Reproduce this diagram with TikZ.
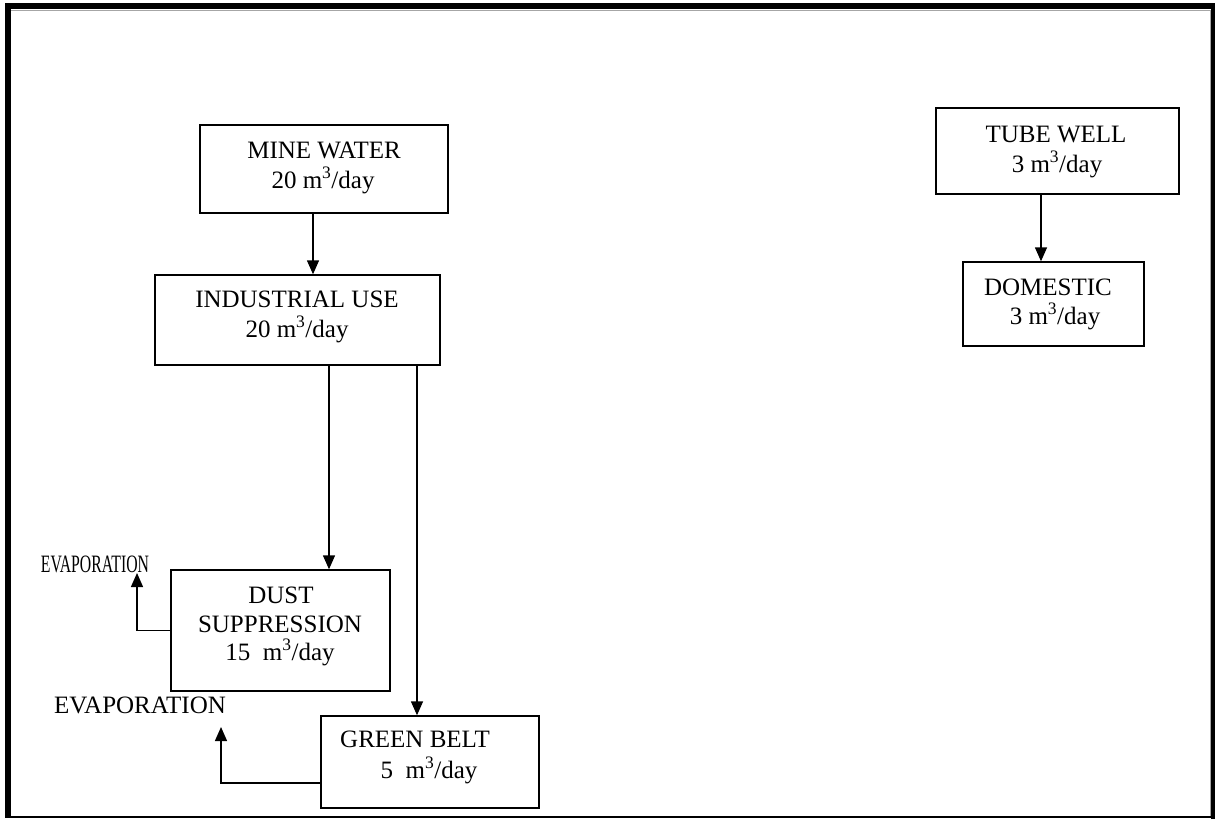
\documentclass[tikz,border=0pt]{standalone}
\usepackage{fontspec}
\setmainfont{Liberation Serif}
\usetikzlibrary{arrows.meta}
\begin{document}
\begin{tikzpicture}[x=1pt,y=-1pt,
  box/.style={draw=black,line width=1.4pt,inner sep=0pt,minimum width=#1},
  lbl/.style={inner sep=0pt,anchor=base,font=\fontsize{25}{29}\selectfont},
  arr/.style={line width=1.4pt,-{Triangle[length=14pt,width=12pt]}}]
\useasboundingbox (0,0) rectangle (1215,819);
% page border
\fill[black] (5,3) rectangle (1215,9);
\fill[black] (5,3) rectangle (11,817);
\fill[black] (1211,3) rectangle (1215,819);
\draw[black,line width=1.5pt] (5,817) -- (1211,817);
\draw[gray!70,line width=0.7pt] (11,10) -- (1210,10) -- (1210,816);
% boxes
\node[box=248pt,minimum height=88pt] (mine) at (324,169) {};
\node[box=285pt,minimum height=90pt] (ind) at (297.5,320) {};
\node[box=219pt,minimum height=121pt] (dust) at (280.5,630.5) {};
\node[box=218pt,minimum height=92pt] (green) at (430,762) {};
\node[box=243pt,minimum height=86pt] (tube) at (1057.5,151) {};
\node[box=181pt,minimum height=84pt] (dom) at (1053.5,304) {};
% labels
\node[lbl] (t1) at (324,158) {MINE WATER};
\node[lbl] (t2) at (323,188) {20 m\textsuperscript{3}/day};
\node[lbl] (t3) at (297,307) {INDUSTRIAL USE};
\node[lbl] (t4) at (297,337) {20 m\textsuperscript{3}/day};
\node[lbl] (t5) at (281,603) {DUST};
\node[lbl] (t6) at (280,632) {SUPPRESSION};
\node[lbl] (t7) at (280,660) {15\ \ m\textsuperscript{3}/day};
\node[lbl,anchor=base west] (t8) at (340,747) {GREEN BELT};
\node[lbl] (t9) at (429,778) {5\ \ m\textsuperscript{3}/day};
\node[lbl] (t10) at (1056,142) {TUBE WELL};
\node[lbl] (t11) at (1057,172) {3 m\textsuperscript{3}/day};
\node[lbl] (t12) at (1048,295) {DOMESTIC};
\node[lbl] (t13) at (1055,324) {3 m\textsuperscript{3}/day};
\node[lbl] (evap2) at (140,713) {EVAPORATION};
\node[lbl] (evap1) at (95,572) {\scalebox{0.63}[1]{EVAPORATION}};
% connectors
\draw[arr] ([xshift=-11pt]mine.south) -- ([xshift=-11pt]mine.south |- ind.north);
\draw[arr] ([xshift=31.5pt]ind.south) -- ([xshift=31.5pt]ind.south |- dust.north);
\draw[arr] ([xshift=119.5pt]ind.south) -- ([xshift=119.5pt]ind.south |- green.north);
\draw[arr] ([xshift=-16.5pt]tube.south) -- ([xshift=-16.5pt]tube.south |- dom.north);
\coordinate (e1) at (137,573);
\coordinate (e2) at (221,727);
\draw[arr] (dust.west) -- (dust.west -| e1) -- (e1);
\draw[arr] ([yshift=-21pt]green.west) -- ([yshift=-21pt]green.west -| e2) -- (e2);
\end{tikzpicture}
\end{document}
